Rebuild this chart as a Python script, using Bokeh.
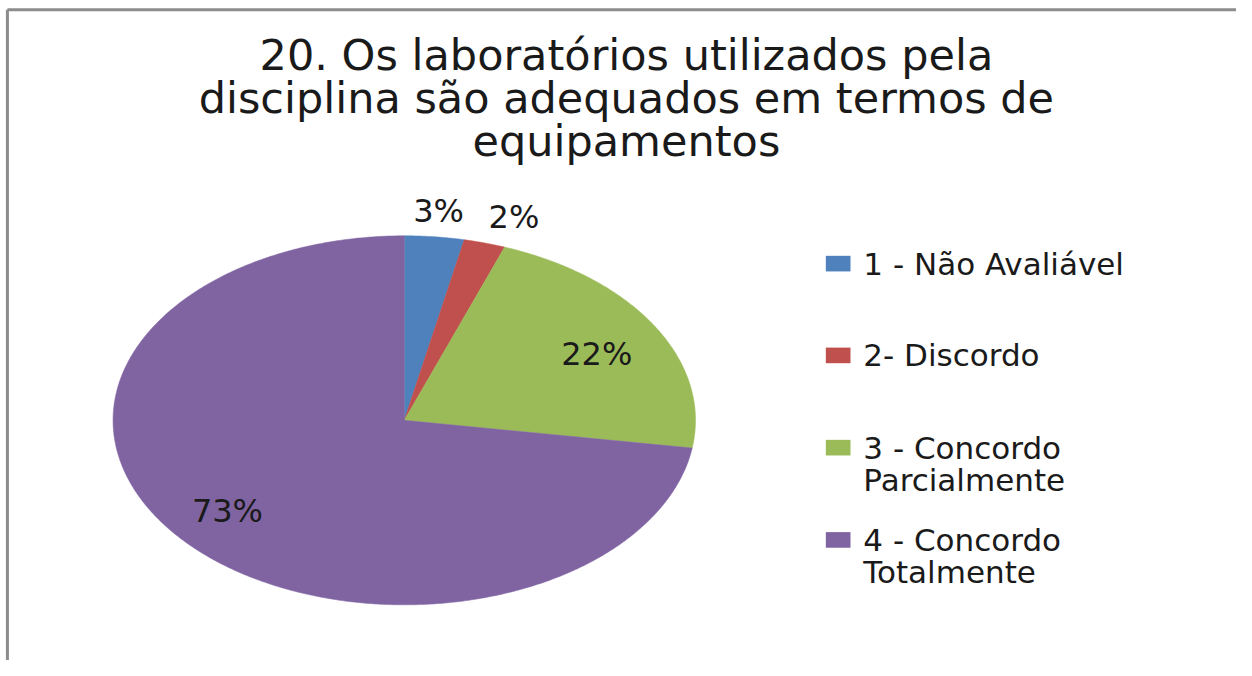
import numpy as np
from bokeh.plotting import figure
from bokeh.models import Range1d
from bokeh.core.properties import value
from bokeh.embed import file_html
from bokeh.resources import INLINE

# ---- data ----
title_lines = ["20. Os laboratórios utilizados pela",
               "disciplina são adequados em termos de",
               "equipamentos"]
categories = ["1 -  Não Avaliável", "2- Discordo",
              "3 - Concordo\nParcialmente", "4 - Concordo\nTotalmente"]
shares = [3.3, 2.3, 21.8, 72.6]          # percent
colors = ["#4F81BD", "#C0504D", "#9BBB59", "#8064A2"]
label_radius = [1.138, 1.162, 0.753, 0.781]  # label placement (fraction of radius)
label_shift_deg = [0.0, 2.9, 2.0, 1.7]       # label placement (angle nudge)

# ---- layout (coordinates in reference-picture pixels) ----
W, H = 1236, 660
cx, cy, rx, ry = 409, 430, 295, 189
FONT = "DejaVu Sans"
TXT = "#1a1a1a"

p = figure(width=W, height=H, output_backend="svg", toolbar_location=None,
           x_range=Range1d(0, 1252), y_range=Range1d(676, 0),
           min_border=0, outline_line_color=None)
p.axis.visible = False
p.grid.visible = False
p.background_fill_color = "white"
p.border_fill_color = "white"

# chart border (top and left visible)
p.segment(x0=[7, 7], y0=[9.5, 9.5], x1=[1252, 7], y1=[9.5, 676],
          line_color="#8c8c8c", line_width=3)

# pie slices
total = float(sum(shares))
cum = np.concatenate([[0.0], np.cumsum(shares)]) / total * 2 * np.pi
xs, ys = [], []
for a0, a1 in zip(cum[:-1], cum[1:]):
    t = np.linspace(a0, a1, max(int((a1 - a0) * 120), 4))
    xs.append([cx] + list(cx + rx * np.sin(t)) + [cx])
    ys.append([cy] + list(cy - ry * np.cos(t)) + [cy])
p.patches(xs=xs, ys=ys, fill_color=colors, line_color=colors, line_width=0.5)

# data labels
mids = (cum[:-1] + cum[1:]) / 2 + np.radians(label_shift_deg)
lx = [cx + f * rx * np.sin(m) for f, m in zip(label_radius, mids)]
ly = [cy - f * ry * np.cos(m) for f, m in zip(label_radius, mids)]
labels = [f"{round(s / total * 100):.0f}%" for s in shares]
p.text(x=lx, y=ly, text=labels, text_font=value(FONT), text_font_size="32px",
       text_color=TXT, text_align="center", text_baseline="middle")

# title
tx = [634] * len(title_lines)
ty = [56 + 44 * i for i in range(len(title_lines))]
p.text(x=tx, y=ty, text=title_lines, text_font=value(FONT), text_font_size="43px",
       text_color=TXT, text_align="center", text_baseline="middle")

# legend
row_y = [269.5, 363.5, 458, 552.5]
p.rect(x=[848.5] * 4, y=row_y, width=25, height=16, fill_color=colors, line_color=None)
lt_x, lt_y, lt_t = [], [], []
for yy, cat in zip(row_y, categories):
    for k, line in enumerate(cat.split("\n")):
        lt_x.append(874)
        lt_y.append(yy + 33 * k)
        lt_t.append(line)
p.text(x=lt_x, y=lt_y, text=lt_t, text_font=value(FONT), text_font_size="31px",
       text_color=TXT, text_align="left", text_baseline="middle")

open("out.html", "w").write(file_html(p, INLINE))
